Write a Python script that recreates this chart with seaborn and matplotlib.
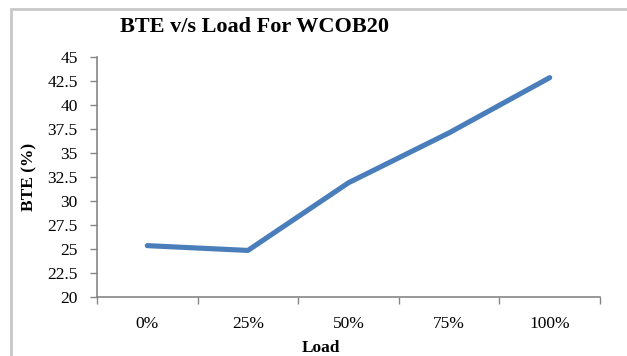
import matplotlib
matplotlib.use("Agg")
import matplotlib.pyplot as plt
import seaborn as sns
import pandas as pd
from matplotlib.patches import Rectangle
from matplotlib.ticker import FixedLocator, NullFormatter

# Brake thermal efficiency against engine load for the WCOB20 blend
load_labels = ["0%", "25%", "50%", "75%", "100%"]
bte_values = [25.35, 24.85, 31.9, 37.1, 42.85]
y_ticks = [20, 22.5, 25, 27.5, 30, 32.5, 35, 37.5, 40, 42.5, 45]

df = pd.DataFrame({"pos": range(len(load_labels)), "BTE": bte_values})

sns.set_style("white")
plt.rcParams["font.family"] = ["Liberation Serif", "DejaVu Serif"]
plt.rcParams["text.color"] = "black"
plt.rcParams["axes.labelcolor"] = "black"

W, H = 627, 356
fig = plt.figure(figsize=(W / 100, H / 100), dpi=100)
ax = fig.add_axes([97 / W, 1 - 297 / H, (600 - 97) / W, (297 - 57) / H])

sns.lineplot(data=df, x="pos", y="BTE", ax=ax, color="#4a7ebb",
             linewidth=3.7, solid_capstyle="round", solid_joinstyle="round")

ax.set_xlim(-0.5, len(load_labels) - 0.5)
ax.set_ylim(20, 45)
ax.set_yticks(y_ticks)
ax.set_yticklabels([f"{v:g}" for v in y_ticks])

# category boundaries carry the tick marks, labels sit in the middle
ax.xaxis.set_major_locator(FixedLocator([i - 0.5 for i in range(len(load_labels) + 1)]))
ax.xaxis.set_major_formatter(NullFormatter())
ax.xaxis.set_minor_locator(FixedLocator(list(range(len(load_labels)))))
ax.set_xticklabels(load_labels, minor=True)

ax.tick_params(axis="x", which="major", direction="out", length=5, width=1,
               color="#868686", bottom=True)
ax.tick_params(axis="x", which="minor", length=0, labelsize=12.5, pad=14,
               labelcolor="black")
ax.tick_params(axis="y", direction="out", length=5, width=1, color="#868686",
               left=True, labelsize=12.5, pad=9, labelcolor="black")

for side in ("top", "right"):
    ax.spines[side].set_visible(False)
for side in ("left", "bottom"):
    ax.spines[side].set_color("#868686")
    ax.spines[side].set_linewidth(1.2)

ax.set_xlabel("Load", fontsize=12.5, fontweight="bold")
ax.xaxis.set_label_coords((321 - 97) / (600 - 97), -(348 - 297) / (297 - 57),
                          transform=ax.transAxes)
ax.set_ylabel("BTE (%)", fontsize=12.5, fontweight="bold")
ax.yaxis.set_label_coords(-(97 - 29) / (600 - 97), 0.5, transform=ax.transAxes)
ax.xaxis.label.set_va("center")
ax.yaxis.label.set_va("center")

fig.text(255 / W, 1 - 27 / H, "BTE v/s Load For WCOB20", ha="center",
         va="center", fontsize=16, fontweight="bold", color="black")

# light frame around the chart area
fig.add_artist(Rectangle((11 / W, -0.2), 1.2, 1 - 9 / H + 0.2,
                         transform=fig.transFigure, fill=False,
                         edgecolor="#c8c8c8", linewidth=2))

fig.savefig("out.png", dpi=100, facecolor="white")
